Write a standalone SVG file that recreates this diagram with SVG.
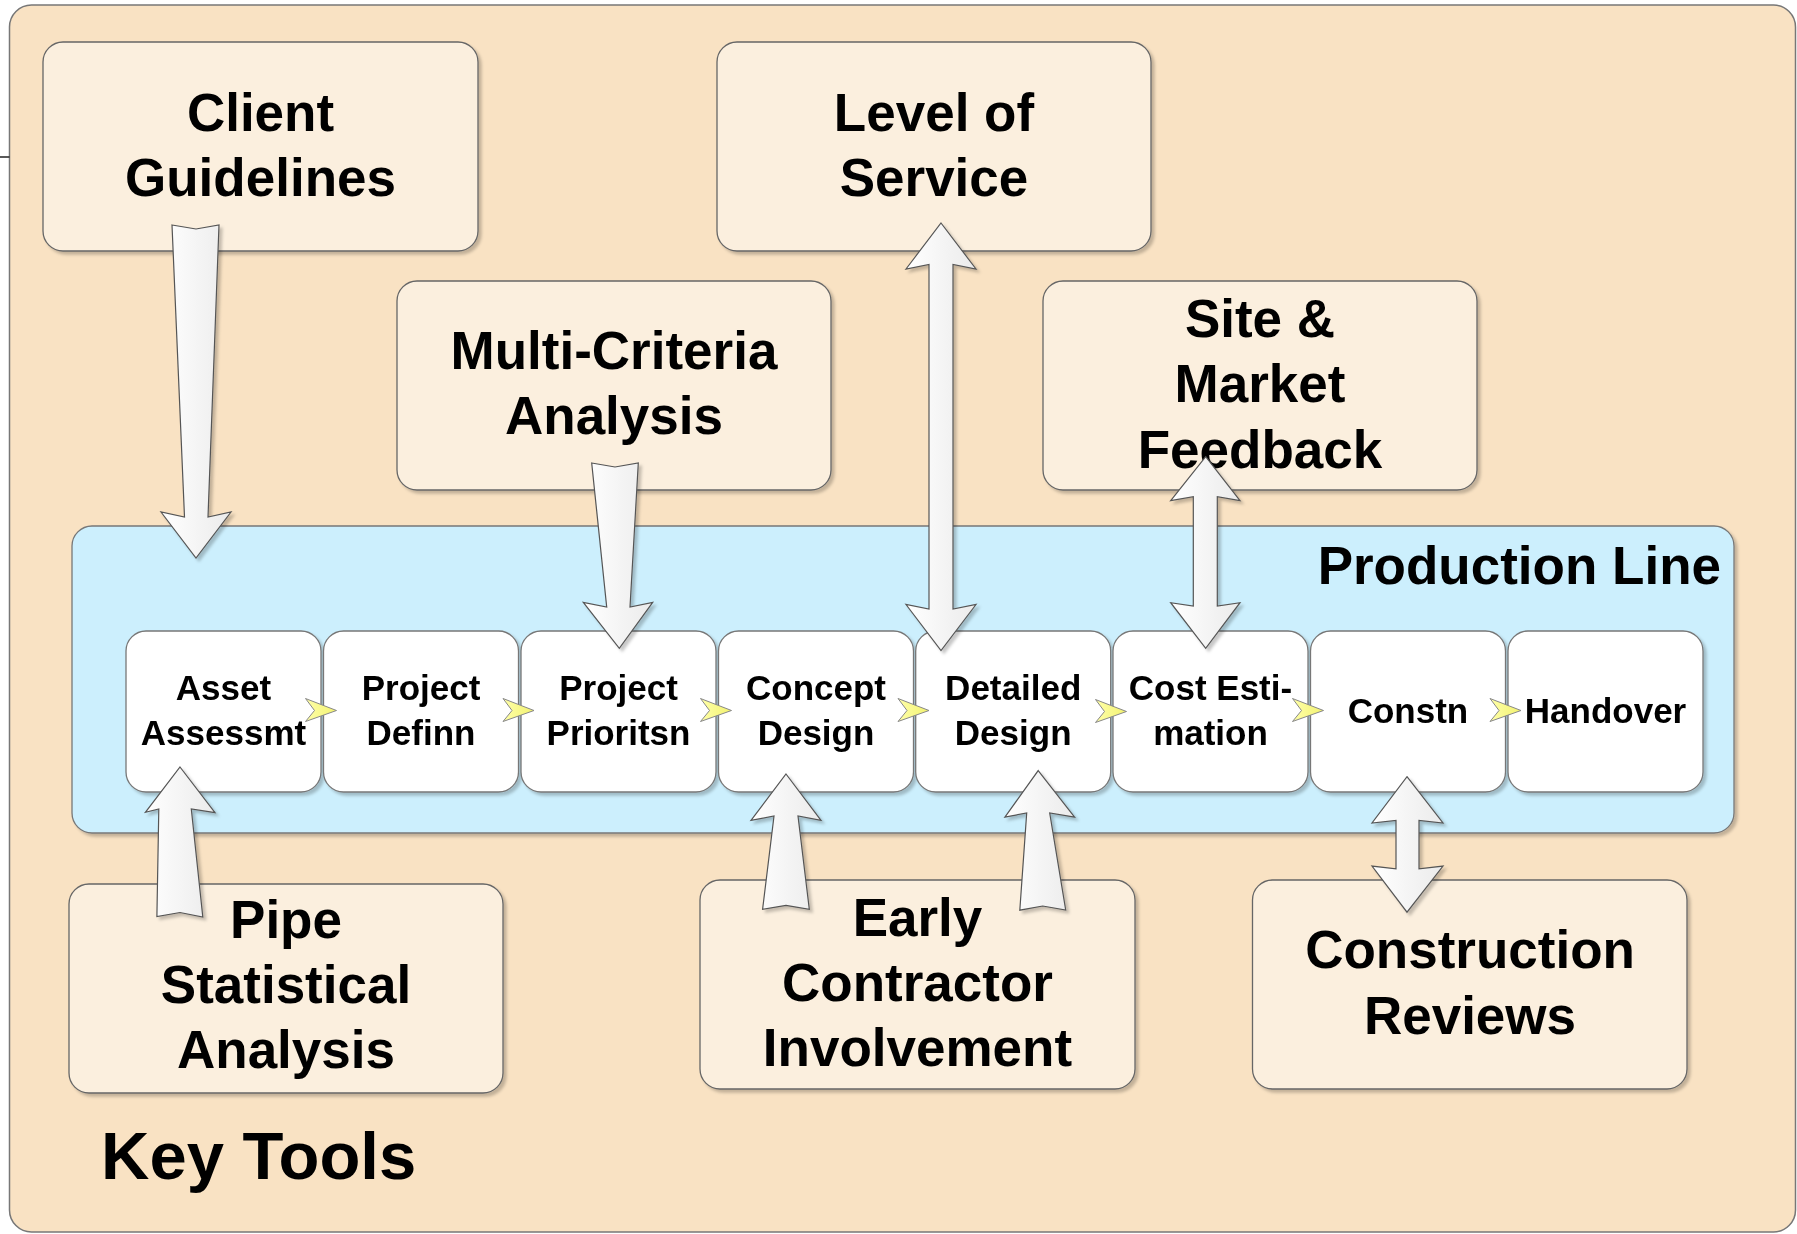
<svg xmlns="http://www.w3.org/2000/svg" width="1797" height="1234" viewBox="0 0 1797 1234">
<defs>
<style>
.frame{fill:#F9E2C3;stroke:#777;stroke-width:1.5}
.tool{fill:#FBEFDE;stroke:#666;stroke-width:1.3}
.line{fill:#CCEFFD;stroke:#777;stroke-width:1.3}
.step{fill:#FFFFFF;stroke:#777;stroke-width:1.3}
.arrow{fill:url(#ag);stroke:#555;stroke-width:1.2;stroke-linejoin:miter}
.chev{fill:url(#cg);stroke:#888;stroke-width:1}
text{font-family:"Liberation Sans",Arial,sans-serif;font-weight:bold;fill:#000;text-anchor:middle}
.big{font-size:53px}
.small{font-size:35px}
</style>
<linearGradient id="ag" x1="0" y1="0" x2="1" y2="0">
<stop offset="0" stop-color="#FFFFFF"/>
<stop offset="1" stop-color="#EBEBEB"/>
</linearGradient>
<linearGradient id="cg" x1="0" y1="0" x2="1" y2="0">
<stop offset="0" stop-color="#FFFFA8"/>
<stop offset="1" stop-color="#F2F270"/>
</linearGradient>
<filter id="sh" x="-10%" y="-10%" width="130%" height="130%">
<feDropShadow dx="3" dy="3" stdDeviation="1.5" flood-color="#000" flood-opacity="0.22"/>
</filter>
<path id="chevron" d="M-15,-12 L16,0 L-15,11 L-6,0 Z"/>
</defs>

<g id="key-tools">
<rect class="frame" x="9.5" y="5" width="1786" height="1227" rx="22"/>
<text x="101" y="1179" style="font-size:67px;text-anchor:start">Key Tools</text>
</g>

<g id="client-guidelines" filter="url(#sh)">
<rect class="tool" x="43" y="42" width="435" height="209" rx="20"/>
<text class="big" x="260.5" y="131">Client</text>
<text class="big" x="260.5" y="196">Guidelines</text>
</g>
<g id="level-of-service" filter="url(#sh)">
<rect class="tool" x="717" y="42" width="434" height="209" rx="20"/>
<text class="big" x="934" y="131">Level of</text>
<text class="big" x="934" y="196">Service</text>
</g>
<g id="multi-criteria-analysis" filter="url(#sh)">
<rect class="tool" x="397" y="281" width="434" height="209" rx="20"/>
<text class="big" x="614" y="369">Multi-Criteria</text>
<text class="big" x="614" y="434">Analysis</text>
</g>
<g id="site-market-feedback" filter="url(#sh)">
<rect class="tool" x="1043" y="281" width="434" height="209" rx="20"/>
<text class="big" x="1260" y="337">Site &amp;</text>
<text class="big" x="1260" y="402">Market</text>
<text class="big" x="1260" y="468">Feedback</text>
</g>

<g id="production-line">
<rect class="line" x="72" y="526" width="1662" height="307" rx="20" filter="url(#sh)"/>
<text class="big" x="1721" y="584" style="text-anchor:end">Production Line</text>
</g>

<g id="asset-assessmt" filter="url(#sh)">
<rect class="step" x="126" y="631" width="195" height="161" rx="20"/>
<text class="small" x="223.5" y="700">Asset</text>
<text class="small" x="223.5" y="745">Assessmt</text>
</g>
<g id="project-definn" filter="url(#sh)">
<rect class="step" x="323.5" y="631" width="195" height="161" rx="20"/>
<text class="small" x="421" y="700">Project</text>
<text class="small" x="421" y="745">Definn</text>
</g>
<g id="project-prioritsn" filter="url(#sh)">
<rect class="step" x="521" y="631" width="195" height="161" rx="20"/>
<text class="small" x="618.5" y="700">Project</text>
<text class="small" x="618.5" y="745">Prioritsn</text>
</g>
<g id="concept-design" filter="url(#sh)">
<rect class="step" x="718.5" y="631" width="195" height="161" rx="20"/>
<text class="small" x="816" y="700">Concept</text>
<text class="small" x="816" y="745">Design</text>
</g>
<g id="detailed-design" filter="url(#sh)">
<rect class="step" x="915.7" y="631" width="195" height="161" rx="20"/>
<text class="small" x="1013.2" y="700">Detailed</text>
<text class="small" x="1013.2" y="745">Design</text>
</g>
<g id="cost-estimation" filter="url(#sh)">
<rect class="step" x="1113" y="631" width="195" height="161" rx="20"/>
<text class="small" x="1210.5" y="700">Cost Esti-</text>
<text class="small" x="1210.5" y="745">mation</text>
</g>
<g id="constn" filter="url(#sh)">
<rect class="step" x="1310.5" y="631" width="195" height="161" rx="20"/>
<text class="small" x="1408" y="723">Constn</text>
</g>
<g id="handover" filter="url(#sh)">
<rect class="step" x="1508" y="631" width="195" height="161" rx="20"/>
<text class="small" x="1605.5" y="723">Handover</text>
</g>

<g id="pipe-statistical-analysis" filter="url(#sh)">
<rect class="tool" x="69" y="884" width="434" height="209" rx="20"/>
<text class="big" x="286" y="938">Pipe</text>
<text class="big" x="286" y="1003">Statistical</text>
<text class="big" x="286" y="1068">Analysis</text>
</g>
<g id="early-contractor-involvement" filter="url(#sh)">
<rect class="tool" x="700" y="880" width="435" height="209" rx="20"/>
<text class="big" x="917.5" y="936">Early</text>
<text class="big" x="917.5" y="1001">Contractor</text>
<text class="big" x="917.5" y="1066">Involvement</text>
</g>
<g id="construction-reviews" filter="url(#sh)">
<rect class="tool" x="1252.5" y="880" width="434.5" height="209" rx="20"/>
<text class="big" x="1470" y="968">Construction</text>
<text class="big" x="1470" y="1034">Reviews</text>
</g>

<g id="connectors">
<line x1="0" y1="157" x2="9.5" y2="157" stroke="#222" stroke-width="1.5"/>
<g filter="url(#sh)">
<polygon class="arrow" points="172,225 196,229 219,225 208,517 231,512 196,558 161,512 184.5,517"/>
<polygon class="arrow" points="591.7,463 615,467 638.3,463 630,607 652.7,602.3 619.3,648.3 583.3,602.3 606.7,607"/>
<polygon class="arrow" points="941,223 976,269 953,264.5 953,609 976,604.5 941,650.5 906,604.5 929,609 929,264.5 906,269"/>
<polygon class="arrow" points="1205.7,456.7 1240,500.7 1217.3,496.7 1217.3,606 1240,602.7 1205.7,648.3 1170.7,602.7 1193.3,606 1193.3,496.7 1170.7,500.7"/>
<polygon class="arrow" points="180,767 215,812.7 191.3,809 202.8,917 180,912.5 156.9,916.5 158.8,809 145.4,812.3"/>
<polygon class="arrow" points="786,774 821,820.4 798,816 809.3,909.3 786,905.3 762.6,909.3 774,816 751,820.4"/>
<polygon class="arrow" points="1038.2,770.6 1074.6,817.1 1049.7,813 1065.7,910 1042.7,906 1019.8,910.2 1026.7,813 1004.9,817.1"/>
<polygon class="arrow" points="1407,776.7 1443,823 1419,820.4 1419,868.9 1443,866.1 1407,912.2 1372,866.1 1396,868.9 1396,820.4 1372,823"/>
</g>
<use href="#chevron" class="chev" x="320.5" y="710.5"/>
<use href="#chevron" class="chev" x="518" y="710.5"/>
<use href="#chevron" class="chev" x="715.5" y="710.5"/>
<use href="#chevron" class="chev" x="913" y="710.5"/>
<use href="#chevron" class="chev" x="1110.5" y="711.5"/>
<use href="#chevron" class="chev" x="1307.5" y="710.5"/>
<use href="#chevron" class="chev" x="1505" y="710.5"/>
</g>
</svg>
